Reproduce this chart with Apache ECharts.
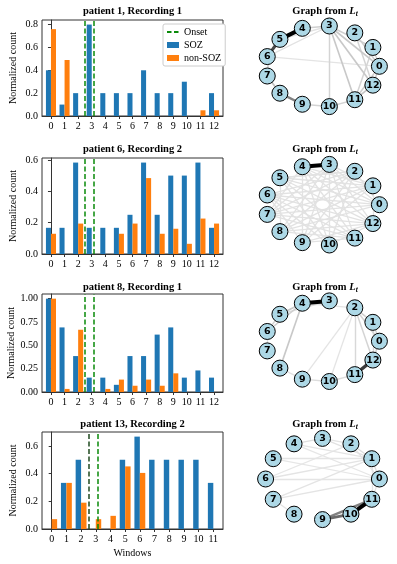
<!DOCTYPE html>
<html>
<head>
<meta charset="utf-8">
<script src="https://cdn.jsdelivr.net/npm/echarts@6/dist/echarts.min.js"></script>
<style>
html,body{margin:0;padding:0;background:#fff;}
#chart{width:397px;height:564px;}
</style>
</head>
<body>
<div id="chart"></div>
<script>
// normalized counts per window
var windows13 = [0, 1, 2, 3, 4, 5, 6, 7, 8, 9, 10, 11, 12];
var windows12 = [0, 1, 2, 3, 4, 5, 6, 7, 8, 9, 10, 11];

var p1Soz = [0.4, 0.1, 0.2, 0.8, 0.2, 0.2, 0.2, 0.4, 0.2, 0.2, 0.3, 0, 0.2];
var p1Non = [0.76, 0.49, 0, 0, 0, 0, 0, 0, 0, 0, 0, 0.05, 0.05];
var p1Onset = [2.7, 3.3];
var p1Ticks = [0, 0.2, 0.4, 0.6, 0.8];

var p6Soz = [0.167, 0.167, 0.583, 0.167, 0.167, 0.167, 0.25, 0.583, 0.25, 0.5, 0.5, 0.583, 0.167];
var p6Non = [0.129, 0, 0.194, 0, 0, 0.129, 0.194, 0.484, 0.129, 0.161, 0.065, 0.226, 0.194];
var p6Onset = [2.7, 3.3];
var p6Ticks = [0, 0.2, 0.4, 0.6];

var p8Soz = [1.0, 0.692, 0.385, 0.154, 0.154, 0.077, 0.385, 0.385, 0.615, 0.692, 0.154, 0.231, 0.154];
var p8Non = [1.0, 0.033, 0.667, 0, 0.033, 0.133, 0.067, 0.133, 0.067, 0.2, 0, 0, 0];
var p8Onset = [2.7, 3.3];
var p8Ticks = [0, 0.25, 0.5, 0.75, 1.0];

var p13Soz = [0, 0.333, 0.5, 0, 0, 0.5, 0.667, 0.5, 0.5, 0.5, 0.5, 0.333];
var p13Non = [0.071, 0.333, 0.19, 0.071, 0.095, 0.452, 0.405, 0, 0, 0, 0, 0];
var p13Onset = [2.7, 3.3];
var p13Ticks = [0, 0.2, 0.4, 0.6];

// graph edges: [from, to, weight]
var p1Edges = [
  [4, 5, 1.0], [5, 6, 0.7], [8, 9, 0.45], [7, 8, 0.18], [6, 7, 0.12], [3, 4, 0.12],
  [3, 0, 0.15], [3, 1, 0.12], [3, 12, 0.15], [3, 11, 0.15], [3, 10, 0.1],
  [2, 0, 0.12], [2, 12, 0.1], [1, 0, 0.1], [0, 12, 0.12], [12, 11, 0.16], [0, 11, 0.12],
  [1, 11, 0.1], [11, 10, 0.1], [10, 9, 0.1], [6, 3, 0.04], [5, 3, 0.04], [6, 0, 0.03]
];
var p6Edges = [
  [3, 4, 1.0],
  [5, 0, 0.04], [5, 1, 0.04], [5, 12, 0.04], [5, 11, 0.04], [5, 10, 0.04], [5, 2, 0.04],
  [6, 0, 0.04], [6, 1, 0.04], [6, 12, 0.04], [6, 11, 0.04], [6, 2, 0.04], [6, 9, 0.04],
  [7, 0, 0.04], [7, 1, 0.04], [7, 12, 0.04], [7, 11, 0.04], [7, 2, 0.04], [7, 3, 0.04],
  [8, 0, 0.04], [8, 1, 0.04], [8, 12, 0.04], [8, 2, 0.04], [8, 3, 0.04],
  [9, 1, 0.04], [9, 2, 0.04], [9, 3, 0.04], [9, 4, 0.04], [9, 12, 0.04],
  [10, 2, 0.04], [10, 3, 0.04], [10, 4, 0.04], [11, 3, 0.04], [11, 4, 0.04],
  [12, 4, 0.04], [12, 3, 0.04], [0, 4, 0.04], [1, 4, 0.04], [2, 5, 0.04], [0, 2, 0.04],
  [1, 12, 0.04], [10, 12, 0.04], [8, 11, 0.04], [4, 7, 0.04], [5, 8, 0.04], [6, 10, 0.04],
  [9, 11, 0.04], [0, 3, 0.04], [1, 3, 0.04]
];
var p8Edges = [
  [3, 4, 1.0], [11, 12, 0.75], [4, 8, 0.15], [4, 5, 0.15], [4, 6, 0.12], [5, 6, 0.1], [3, 5, 0.06],
  [2, 1, 0.12], [1, 0, 0.1], [2, 0, 0.1], [2, 12, 0.1], [2, 11, 0.08], [0, 12, 0.1], [1, 12, 0.08],
  [9, 10, 0.06], [10, 11, 0.06], [9, 2, 0.03], [8, 9, 0.04], [6, 7, 0.05], [4, 2, 0.03], [10, 2, 0.03]
];
var p13Edges = [
  [10, 11, 1.0], [9, 10, 0.55], [9, 11, 0.45], [1, 5, 0.03], [1, 6, 0.03], [1, 7, 0.03],
  [0, 6, 0.03], [0, 7, 0.03], [1, 4, 0.03], [2, 1, 0.05], [1, 0, 0.05], [3, 4, 0.05],
  [3, 2, 0.03], [3, 1, 0.04], [2, 0, 0.03], [7, 8, 0.04], [0, 11, 0.03], [2, 6, 0.02],
  [0, 5, 0.02], [4, 0, 0.02], [1, 11, 0.03]
];

var serif = 'Liberation Serif';
var green = '#0a8a0a';

var panels = [
  {title: 'patient 1, Recording 1', win: windows13, soz: p1Soz, non: p1Non, onset: p1Onset, ticks: p1Ticks, dec: 1, edges: p1Edges, top: 20, h: 96, gTop: 25.7, tY: 11},
  {title: 'patient 6, Recording 2', win: windows13, soz: p6Soz, non: p6Non, onset: p6Onset, ticks: p6Ticks, dec: 1, edges: p6Edges, top: 158, h: 96, gTop: 164.1, tY: 149},
  {title: 'patient 8, Recording 1', win: windows13, soz: p8Soz, non: p8Non, onset: p8Onset, ticks: p8Ticks, dec: 2, edges: p8Edges, top: 294, h: 98, gTop: 300.6, tY: 287},
  {title: 'patient 13, Recording 2', win: windows12, soz: p13Soz, non: p13Non, onset: p13Onset, ticks: p13Ticks, dec: 1, edges: p13Edges, top: 432, h: 97, gTop: 438.4, tY: 424}
];

function grey(w) {
  var v = Math.round(235 * (1 - w));
  return 'rgb(' + v + ',' + v + ',' + v + ')';
}

var grid = [], xAxis = [], yAxis = [], series = [], title = [];

panels.forEach(function (p, k) {
  var gi = 2 * k, gg = 2 * k + 1;
  var n = p.win.length;
  var ymax = Math.max.apply(null, p.soz.concat(p.non)) * 1.05;

  title.push({
    text: p.title, left: 132.5, top: p.tY, textAlign: 'center', textVerticalAlign: 'middle', padding: 0,
    textStyle: {fontFamily: serif, fontWeight: 'bold', fontSize: 10.5, color: '#000'}
  });
  title.push({
    text: '{a|Graph from }{b|L}{c|t}', left: 325, top: p.tY, textAlign: 'center', textVerticalAlign: 'middle', padding: 0,
    textStyle: {
      rich: {
        a: {fontFamily: serif, fontWeight: 'bold', fontSize: 10.5, color: '#000', lineHeight: 14},
        b: {fontFamily: serif, fontStyle: 'italic', fontSize: 10.5, color: '#000', lineHeight: 14},
        c: {fontFamily: serif, fontStyle: 'italic', fontSize: 7.5, color: '#000', lineHeight: 8, verticalAlign: 'bottom'}
      }
    }
  });

  grid.push({left: 42, width: 181, top: p.top, height: p.h, show: true, borderColor: '#333', borderWidth: 1});
  grid.push({left: 265.6, width: 113.8, top: p.gTop, height: 81.2, show: false});

  xAxis.push({
    type: 'value', gridIndex: gi, min: -0.66, max: n - 1 + 0.66,
    splitLine: {show: false},
    axisLine: {show: true, onZero: false, lineStyle: {color: '#333', width: 1}},
    axisTick: {show: true, length: 3, customValues: p.win, lineStyle: {color: '#333'}},
    axisLabel: {customValues: p.win, margin: 5, fontFamily: serif, fontSize: 10, color: '#000'},
    name: k === 3 ? 'Windows' : '', nameLocation: 'middle', nameGap: 19,
    nameTextStyle: {fontFamily: serif, fontSize: 10, color: '#000'}
  });
  yAxis.push({
    type: 'value', gridIndex: gi, min: 0, max: ymax,
    splitLine: {show: false},
    axisLine: {show: true, lineStyle: {color: '#333', width: 1}},
    axisTick: {show: true, length: 3, customValues: p.ticks, lineStyle: {color: '#333'}},
    axisLabel: {customValues: p.ticks, margin: 4, fontFamily: serif, fontSize: 10, color: '#000',
      formatter: function (v) { return v.toFixed(p.dec); }},
    name: 'Normalized count', nameLocation: 'middle', nameGap: 24, nameRotate: 90,
    nameTextStyle: {fontFamily: serif, fontSize: 10, color: '#000'}
  });
  xAxis.push({type: 'value', gridIndex: gg, min: -1, max: 1, show: false});
  yAxis.push({type: 'value', gridIndex: gg, min: -1, max: 1, show: false});

  var onsetLines = p.onset.map(function (x, j) {
    var item = {xAxis: x};
    if (k === 3 && j === 0) item.lineStyle = {color: '#1f4a1f'};
    return item;
  });

  series.push({
    type: 'bar', name: 'SOZ', xAxisIndex: gi, yAxisIndex: gi,
    data: p.soz.map(function (v, i) { return [p.win[i], v]; }),
    barWidth: '37%', barGap: '0%',
    itemStyle: {color: '#1f77b4'},
    markLine: {
      silent: true, symbol: ['none', 'none'], label: {show: false},
      lineStyle: {color: green, type: [5, 2.5], width: 1.5},
      data: onsetLines
    }
  });
  series.push({
    type: 'bar', name: 'non-SOZ', xAxisIndex: gi, yAxisIndex: gi,
    data: p.non.map(function (v, i) { return [p.win[i], v]; }),
    barWidth: '37%', barGap: '0%',
    itemStyle: {color: '#ff7f0e'}
  });
  if (k === 0) {
    series.push({
      type: 'line', name: 'Onset', xAxisIndex: gi, yAxisIndex: gi, data: [],
      symbol: 'none', lineStyle: {color: green, type: [4.5, 2.5], width: 1.5}, itemStyle: {color: green}
    });
  }

  // circular layout like networkx
  var nodes = p.win.map(function (w, i) {
    var a = 2 * Math.PI * i / n;
    return {name: String(w), value: [Math.cos(a), Math.sin(a)]};
  });
  var links = p.edges.slice().sort(function (a, b) { return a[2] - b[2]; }).map(function (e) {
    return {source: e[0], target: e[1], lineStyle: {width: 1.2 + 2.8 * e[2], color: grey(e[2]), opacity: 1, curveness: 0}};
  });
  series.push({
    type: 'graph', coordinateSystem: 'cartesian2d', xAxisIndex: gg, yAxisIndex: gg,
    symbolSize: 16, silent: true,
    itemStyle: {color: '#add8e6', borderColor: '#000', borderWidth: 1},
    label: {show: true, position: 'inside', formatter: '{b}', fontFamily: 'DejaVu Sans', fontWeight: 'bold', fontSize: 9.5, color: '#000'},
    emphasis: {disabled: true},
    data: nodes,
    links: links
  });
});

var chart = echarts.init(document.getElementById('chart'));
var option = {
  animation: false,
  backgroundColor: '#fff',
  title: title,
  legend: {
    orient: 'vertical', left: 163, top: 24,
    itemWidth: 12, itemHeight: 6, itemGap: 1, padding: [2, 4, 2, 3],
    backgroundColor: '#fff', borderColor: '#ccc', borderWidth: 1, borderRadius: 2,
    selectedMode: false,
    textStyle: {fontFamily: serif, fontSize: 10, color: '#000', lineHeight: 12},
    data: [{name: 'Onset', itemStyle: {opacity: 0}}, {name: 'SOZ', icon: 'rect'}, {name: 'non-SOZ', icon: 'rect'}]
  },
  grid: grid,
  xAxis: xAxis,
  yAxis: yAxis,
  series: series
};
chart.setOption(option);
</script>
</body>
</html>
